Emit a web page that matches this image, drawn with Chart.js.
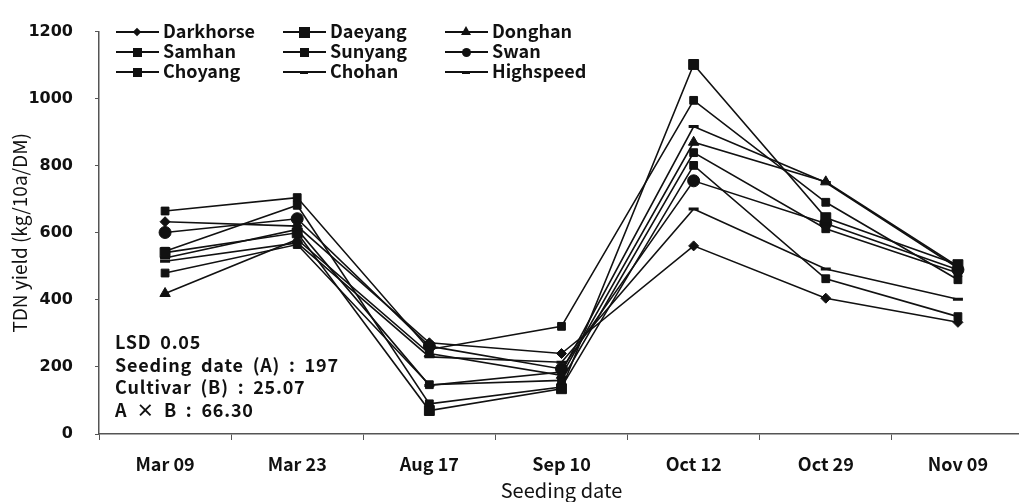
<!DOCTYPE html>
<html>
<head>
<meta charset="utf-8">
<script src="https://cdn.jsdelivr.net/npm/chart.js@4/dist/chart.umd.min.js"></script>
<style>
  html, body { margin: 0; padding: 0; background: #fff; }
  body { width: 1019px; height: 502px; overflow: hidden; position: relative; }
  #wrap { position: absolute; left: 0; top: 0; width: 1032px; height: 502px; }
  .txt { position: absolute; font-family: "Noto Sans CJK KR", "Noto Sans", sans-serif; font-weight: bold; color: #111; white-space: nowrap; }
  .leg { position: absolute; height: 20px; }
  .leg .ln { position: absolute; top: 9px; height: 2px; background: #111; }
  .leg .lab { position: absolute; top: -3px; font-size: 18px; line-height: 22px; }
  .mk { position: absolute; background: #111; }
  .note { font-size: 18px; line-height: 22.5px; word-spacing: 4px; letter-spacing: 0.8px; }
</style>
</head>
<body>
<div id="wrap"><canvas id="c" width="1032" height="502"></canvas></div>
<div id="legend"></div>
<div class="txt note" style="left:115px; top:330px;">LSD 0.05<br>Seeding date (A) : 197<br>Cultivar (B) : 25.07<br>A × B : 66.30</div>
<script>
// Seeding dates on the x axis
const seedingDates = ['Mar 09', 'Mar 23', 'Aug 17', 'Sep 10', 'Oct 12', 'Oct 29', 'Nov 09'];

// TDN yield (kg/10a/DM) per cultivar, one value per seeding date
const darkhorse = [633, 620, 272, 240, 561, 405, 333];
const daeyang   = [541, 600,  70, 135, 1102, 645, 505];
const donghan   = [419, 580, 240, 175, 870, 752, 500];
const samhan    = [665, 705, 252, 321, 995, 691, 460];
const sunyang   = [480, 565, 147, 160, 839, 612, 480];
const swan      = [601, 642, 262, 194, 755, 628, 490];
const choyang   = [545, 682,  90, 140, 801, 463, 350];
const chohan    = [515, 570, 230, 214, 671, 492, 402];
const highspeed = [525, 610, 145, 185, 917, 750, 495];

const yTicks = [0, 200, 400, 600, 800, 1000, 1200];

const cultivars = [
  { name: 'Darkhorse', data: darkhorse, style: 'rectRot',  r: 5 },
  { name: 'Daeyang',   data: daeyang,   style: 'rect',     r: 7 },
  { name: 'Donghan',   data: donghan,   style: 'triangle', r: 6 },
  { name: 'Samhan',    data: samhan,    style: 'rect',     r: 5.5 },
  { name: 'Sunyang',   data: sunyang,   style: 'rect',     r: 5.5 },
  { name: 'Swan',      data: swan,      style: 'circle',   r: 6 },
  { name: 'Choyang',   data: choyang,   style: 'rect',     r: 5.5 },
  { name: 'Chohan',    data: chohan,    style: 'line',     r: 5 },
  { name: 'Highspeed', data: highspeed, style: 'line',     r: 5 }
];

const ink = '#111';

new Chart(document.getElementById('c'), {
  type: 'line',
  data: {
    labels: seedingDates,
    datasets: cultivars.map(c => ({
      label: c.name,
      data: c.data,
      borderColor: ink,
      backgroundColor: ink,
      borderWidth: 1.6,
      pointStyle: c.style,
      pointRadius: c.r,
      pointHoverRadius: c.r,
      pointBackgroundColor: ink,
      pointBorderColor: ink,
      pointBorderWidth: c.style === 'line' ? 3 : 1,
      tension: 0
    }))
  },
  options: {
    responsive: false,
    animation: false,
    events: [],
    layout: { padding: { top: 19, right: 0, left: 0, bottom: 0 } },
    plugins: { legend: { display: false }, tooltip: { enabled: false } },
    scales: {
      x: {
        offset: true,
        grid: { display: true, offset: true, drawOnChartArea: false, tickLength: 6, color: '#555', tickWidth: 1 },
        border: { display: true, color: '#555', width: 1.5 },
        ticks: { color: ink, padding: 13, font: { family: '"Noto Sans CJK KR", sans-serif', size: 18, weight: 'bold' } },
        title: { display: true, text: 'Seeding date', color: ink, padding: { top: 0, bottom: 0 },
                 font: { family: '"Noto Sans CJK KR", sans-serif', size: 20, weight: 'normal' } },
        afterFit: s => { s.height = 68; }
      },
      y: {
        min: 0, max: 1200,
        afterBuildTicks: s => { s.ticks = yTicks.map(v => ({ value: v })); },
        grid: { display: true, drawOnChartArea: false, tickLength: 4, color: '#555' },
        border: { display: true, color: '#555', width: 1.5 },
        ticks: { color: ink, padding: 22, callback: v => String(v),
                 font: { family: '"DejaVu Sans", sans-serif', size: 16, weight: 'bold' } },
        title: { display: true, text: 'TDN yield (kg/10a/DM)', color: ink, padding: { top: 8, bottom: 0 },
                 font: { family: '"Noto Sans CJK KR", sans-serif', size: 19, weight: 'normal' } },
        afterFit: s => { s.width = 99; }
      }
    }
  }
});

// Legend: three columns of line-and-marker keys
const legendCols = [116, 283, 445];
const legendRows = [22, 42, 62];
const legendEl = document.getElementById('legend');
cultivars.forEach((c, i) => {
  const col = i % 3, row = Math.floor(i / 3);
  const item = document.createElement('div');
  item.className = 'leg txt';
  item.style.left = legendCols[col] + 'px';
  item.style.top = legendRows[row] + 'px';
  const ln = document.createElement('div');
  ln.className = 'ln';
  ln.style.left = '0px'; ln.style.width = '43px';
  item.appendChild(ln);
  const mk = document.createElement('div');
  mk.className = 'mk';
  const cx = 21, cy = 10;
  let w = 8, h = 8, extra = '';
  if (c.style === 'rect') { w = h = (c.r >= 7 ? 11 : 9); }
  if (c.style === 'rectRot') { w = h = 6; extra = 'transform: rotate(45deg);'; }
  if (c.style === 'circle') { w = h = 9; extra = 'border-radius: 50%;'; }
  if (c.style === 'line') { w = 8; h = 3; }
  if (c.style === 'triangle') {
    mk.style.cssText = `left:${cx - 5}px; top:${cy - 6}px; width:0; height:0; background:none;` +
      `border-left:5px solid transparent; border-right:5px solid transparent; border-bottom:9px solid ${ink};`;
  } else {
    mk.style.cssText = `left:${cx - w / 2}px; top:${cy - h / 2}px; width:${w}px; height:${h}px;` + extra;
  }
  item.appendChild(mk);
  const lab = document.createElement('span');
  lab.className = 'lab';
  lab.style.left = '47px';
  lab.textContent = c.name;
  item.appendChild(lab);
  legendEl.appendChild(item);
});
</script>
</body>
</html>
